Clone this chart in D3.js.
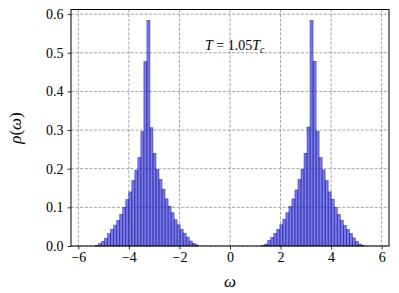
<!DOCTYPE html>
<html>
<head>
<meta charset="utf-8">
<script src="https://cdn.jsdelivr.net/npm/d3@7"></script>
<style>
  body { margin: 0; background: #fff; }
  svg text { font-family: "Liberation Serif", "DejaVu Serif", serif; }
</style>
</head>
<body>
<svg id="chart" width="399" height="293"></svg>
<script>
// histogram bins are centred on k * binWidth
let binWidth = 0.1195;
// left hump, bins k = -44 .. -11
let leftStart = -44;
let leftHump = [0.002, 0.006, 0.012, 0.020, 0.032, 0.043, 0.054, 0.066, 0.082, 0.100,
  0.120, 0.140, 0.169, 0.196, 0.229, 0.296, 0.477, 0.584, 0.306, 0.240,
  0.198, 0.172, 0.147, 0.122, 0.103, 0.086, 0.068, 0.055, 0.043, 0.033,
  0.023, 0.013, 0.007, 0.003];
// right hump, bins k = 11 .. 44
let rightStart = 11;
let rightHump = [0.002, 0.005, 0.014, 0.022, 0.033, 0.043, 0.055, 0.069, 0.086, 0.102,
  0.122, 0.145, 0.172, 0.198, 0.240, 0.308, 0.584, 0.478, 0.297, 0.229,
  0.197, 0.169, 0.140, 0.121, 0.100, 0.082, 0.067, 0.053, 0.043, 0.032,
  0.021, 0.012, 0.005, 0.002];
let xTicks = [-6, -4, -2, 0, 2, 4, 6];
let yTicks = [0, 0.1, 0.2, 0.3, 0.4, 0.5, 0.6];

let bins = [];
leftHump.forEach((h, i) => bins.push({k: leftStart + i, h: h}));
rightHump.forEach((h, i) => bins.push({k: rightStart + i, h: h}));

let m = {left: 71, top: 9.5, right: 389, bottom: 246};
let svg = d3.select("#chart");

let x = d3.scaleLinear().domain([-6.29, 6.29]).range([m.left, m.right]);
let y = d3.scaleLinear().domain([0, 0.612]).range([m.bottom, m.top]);

// grid
let grid = svg.append("g")
  .attr("stroke", "#8c8c8c")
  .attr("stroke-width", 0.8)
  .attr("stroke-dasharray", "3,1.6");
grid.selectAll(".gx").data(xTicks).enter().append("line")
  .attr("x1", d => x(d)).attr("x2", d => x(d))
  .attr("y1", m.top).attr("y2", m.bottom);
grid.selectAll(".gy").data(yTicks).enter().append("line")
  .attr("x1", m.left).attr("x2", m.right)
  .attr("y1", d => y(d)).attr("y2", d => y(d));

// bars
svg.append("g").selectAll("rect").data(bins).enter().append("rect")
  .attr("x", d => x((d.k - 0.5) * binWidth))
  .attr("width", d => x((d.k + 0.5) * binWidth) - x((d.k - 0.5) * binWidth))
  .attr("y", d => y(d.h))
  .attr("height", d => y(0) - y(d.h))
  .attr("fill", "rgba(40,40,245,0.64)")
  .attr("stroke", "rgba(25,25,70,0.7)")
  .attr("stroke-width", 0.6);

// axes
let xAxis = svg.append("g")
  .attr("transform", `translate(0,${m.bottom})`)
  .call(d3.axisBottom(x).tickValues(xTicks).tickSize(3.5).tickPadding(3)
    .tickFormat(d => d < 0 ? "\u2212" + Math.abs(d) : d));
let yAxis = svg.append("g")
  .attr("transform", `translate(${m.left},0)`)
  .call(d3.axisLeft(y).tickValues(yTicks).tickSize(3.5).tickPadding(4)
    .tickFormat(d3.format(".1f")));
[xAxis, yAxis].forEach(a => {
  a.select(".domain").remove();
  a.selectAll("text").attr("font-size", 14).attr("fill", "#000")
    .style("font-family", "'Liberation Serif', serif");
  a.selectAll("line").attr("stroke", "#000").attr("stroke-width", 0.8);
});

// frame
svg.append("rect")
  .attr("x", m.left).attr("y", m.top)
  .attr("width", m.right - m.left).attr("height", m.bottom - m.top)
  .attr("fill", "none").attr("stroke", "#000").attr("stroke-width", 1);

// labels
svg.append("text")
  .attr("x", x(0)).attr("y", 287)
  .attr("text-anchor", "middle").attr("font-size", 17).attr("font-style", "italic")
  .text("\u03c9");
svg.append("text")
  .attr("transform", "translate(21,128) rotate(-90)")
  .attr("text-anchor", "middle").attr("font-size", 17)
  .html('<tspan font-style="italic">\u03c1</tspan>(<tspan font-style="italic">\u03c9</tspan>)');

let ann = svg.append("text")
  .attr("x", 205).attr("y", 50).attr("font-size", 14);
ann.append("tspan").attr("font-style", "italic").text("T");
ann.append("tspan").text(" = 1.05");
ann.append("tspan").attr("font-style", "italic").text("T");
ann.append("tspan").attr("font-style", "italic").attr("font-size", 10).attr("dy", 3).text("c");
</script>
</body>
</html>
